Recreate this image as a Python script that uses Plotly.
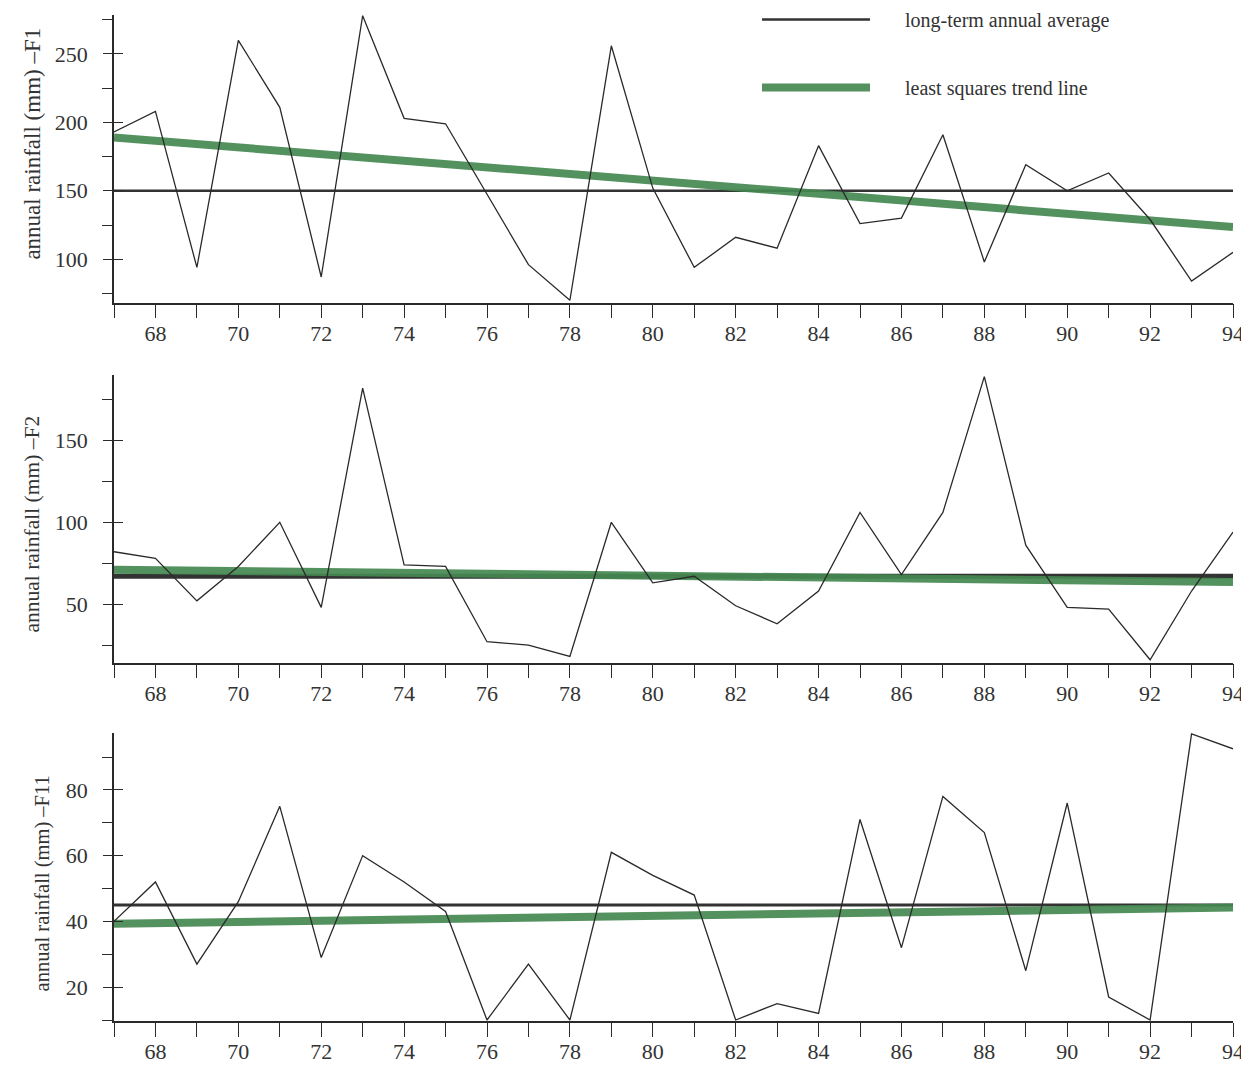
import plotly.graph_objects as go

# ---------------- data ----------------
years = list(range(67, 95))
year_labels = [str(y) if y % 2 == 0 else "" for y in years]

rain_f1 = [193, 208, 94, 260, 211, 87, 278, 203, 199, 148, 96, 70, 256, 152,
           94, 116, 108, 183, 126, 130, 191, 98, 169, 150, 163, 129, 84, 105]
rain_f2 = [82, 78, 52, 73, 100, 48, 182, 74, 73, 27, 25, 18, 100, 63,
           67, 49, 38, 58, 106, 68, 106, 189, 86, 48, 47, 16, 58, 94]
rain_f11 = [40, 52, 27, 46, 75, 29, 60, 52, 43, 10, 27, 10, 61, 54,
            48, 10, 15, 12, 71, 32, 78, 67, 25, 76, 17, 10, 97, 92.5]

avg_f1, avg_f2, avg_f11 = 150, 67, 45
trend_f1 = [189, 123.5]     # values at first and last year
trend_f2 = [71, 63.5]
trend_f11 = [39.3, 44.2]

y_titles = ["annual rainfall (mm) \u2013F1", "annual rainfall (mm) \u2013F2",
            "annual rainfall (mm) \u2013F11"]
legend_names = ["long-term annual average", "least squares trend line"]

# ---------------- style ----------------
OFF = 8                      # page body margin of the html page
W, H = 1249 - OFF, 1067 - OFF
FONT = "Liberation Serif"
INK = "#2a2a2a"
GREEN = "rgba(68,136,80,0.92)"


def px_x(p):
    return (p - OFF) / W


def px_y(p):
    return 1 - (p - OFF) / H


x_dom = [px_x(114), px_x(1233)]
y_doms = [[px_y(302.7), px_y(15)], [px_y(662.7), px_y(375)], [px_y(1021), px_y(733)]]
y_ranges = [[68.2, 278.5], [14.2, 190], [9.7, 97.3]]
majors = [50, 50, 20]
minors = [25, 25, 10]
avg_widths = [2.5, 5, 3]
title_x = [px_x(33), px_x(32.5), px_x(42.5)]
title_y = [0.553, 0.482, 0.476]
title_size = [23, 21.5, 20.5]

series = [rain_f1, rain_f2, rain_f11]
avgs = [avg_f1, avg_f2, avg_f11]
trends = [trend_f1, trend_f2, trend_f11]
GAP = "&nbsp;" * 6

fig = go.Figure()
first, last = years[0], years[-1]
for i in range(3):
    xa = "x" if i == 0 else f"x{i+1}"
    ya = "y" if i == 0 else f"y{i+1}"
    yo = f"y{i+4}"
    fig.add_trace(go.Scatter(x=[first, last], y=[avgs[i], avgs[i]], mode="lines",
                             line=dict(color="#333333", width=avg_widths[i]),
                             name=GAP + legend_names[0], showlegend=(i == 0),
                             legendgroup="a", xaxis=xa, yaxis=ya, hoverinfo="skip"))
    fig.add_trace(go.Scatter(x=[first, last], y=trends[i], mode="lines",
                             line=dict(color=GREEN, width=8),
                             name=GAP + legend_names[1], showlegend=(i == 0),
                             legendgroup="b", xaxis=xa, yaxis=ya, hoverinfo="skip"))
    fig.add_trace(go.Scatter(x=years, y=series[i], mode="lines",
                             line=dict(color=INK, width=1.3),
                             showlegend=False, xaxis=xa, yaxis=yo))

tickfont = dict(family=FONT, size=22, color="#333333")
layout = dict(width=W, height=H,
              margin=dict(l=0, r=0, t=0, b=0, autoexpand=False),
              paper_bgcolor="white", plot_bgcolor="white", showlegend=True,
              font=dict(family=FONT, color="#333333"))
for i in range(3):
    xk = "xaxis" if i == 0 else f"xaxis{i+1}"
    yk = "yaxis" if i == 0 else f"yaxis{i+1}"
    ya = "y" if i == 0 else f"y{i+1}"
    xa = "x" if i == 0 else f"x{i+1}"
    layout[xk] = dict(domain=x_dom, range=[first, last], anchor=ya,
                      tickvals=years, ticktext=year_labels, ticks="outside",
                      ticklen=14, tickwidth=1.4, tickcolor=INK, showline=True,
                      linecolor=INK, linewidth=1.5, showgrid=False, zeroline=False,
                      tickfont=tickfont, ticklabelstandoff=-4, automargin=False)
    layout[yk] = dict(domain=y_doms[i], range=y_ranges[i], anchor=xa,
                      dtick=majors[i], tick0=0, ticks="outside", ticklen=9,
                      tickwidth=1.4, tickcolor=INK, showline=True, linecolor=INK,
                      linewidth=1.5, showgrid=False, zeroline=False,
                      tickfont=tickfont, ticklabelstandoff=11, automargin=False,
                      minor=dict(dtick=minors[i], tick0=0, ticks="outside",
                                 ticklen=10, tickwidth=1.3, tickcolor=INK,
                                 showgrid=False))
    layout[f"yaxis{i+4}"] = dict(overlaying=ya, range=y_ranges[i], anchor=xa,
                                 side="left", dtick=majors[i], tick0=0,
                                 ticks="inside", ticklen=9, tickwidth=1.4,
                                 tickcolor=INK, showline=False, showgrid=False,
                                 zeroline=False, showticklabels=False)

layout["annotations"] = [
    dict(text=y_titles[i], textangle=-90, xref="paper",
         yref=("y domain" if i == 0 else f"y{i+1} domain"),
         x=title_x[i], y=title_y[i], xanchor="center", yanchor="middle",
         showarrow=False, font=dict(family=FONT, size=title_size[i], color="#333333"))
    for i in range(3)
]
layout["legend"] = dict(x=px_x(757), y=1 + 8 / H, xanchor="left", yanchor="top",
                        bgcolor="rgba(0,0,0,0)", itemwidth=108,
                        traceorder="grouped", tracegroupgap=39,
                        font=dict(family=FONT, size=20, color="#333333"))
fig.update_layout(**layout)
fig.write_html("out.html")
